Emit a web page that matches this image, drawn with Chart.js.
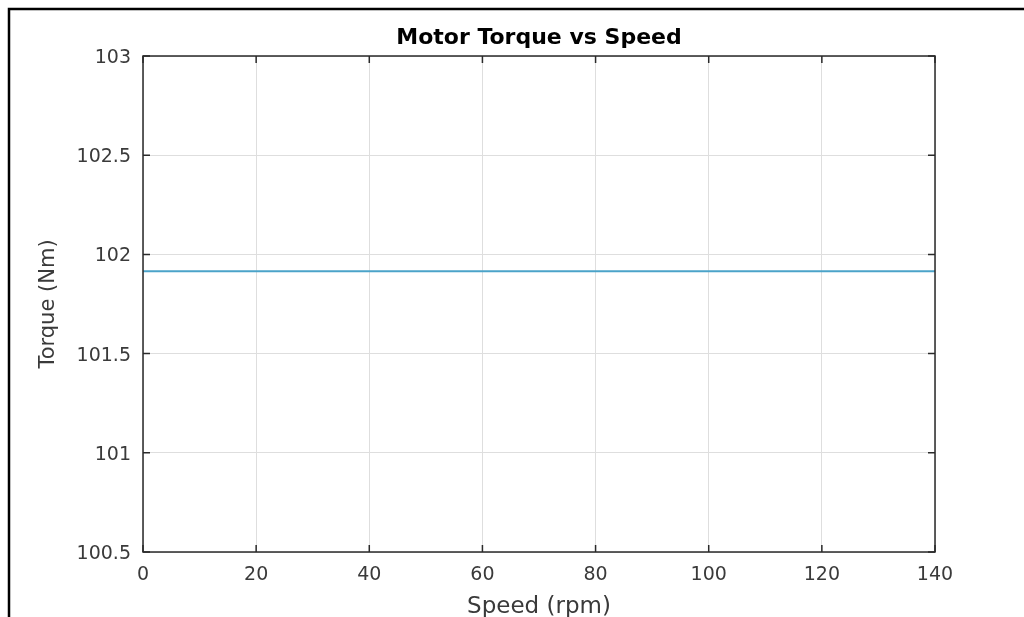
<!DOCTYPE html>
<html>
<head>
<meta charset="utf-8">
<script src="https://cdn.jsdelivr.net/npm/chart.js@4.4.0/dist/chart.umd.min.js"></script>
<style>
  html, body { margin: 0; padding: 0; background: #fff; }
  canvas { display: block; }
</style>
</head>
<body>
<canvas id="c" width="1024" height="617"></canvas>
<script>
// ---- data ----
const speedRpm = [0, 20, 40, 60, 80, 100, 120, 140];
const torqueNm = [101.915, 101.915, 101.915, 101.915, 101.915, 101.915, 101.915, 101.915];
const xTicks = [0, 20, 40, 60, 80, 100, 120, 140];
const yTicks = [100.5, 101, 101.5, 102, 102.5, 103];
const chartTitle = 'Motor Torque vs Speed';
const xLabel = 'Speed (rpm)';
const yLabel = 'Torque (Nm)';

const FONT = "'DejaVu Sans', sans-serif";
const AXIS_COLOR = '#2a2a2a';
const TEXT_COLOR = '#3a3a3a';

const framePlugin = {
  id: 'frame',
  beforeDraw(chart) {
    const ctx = chart.ctx;
    ctx.save();
    ctx.fillStyle = '#fff';
    ctx.fillRect(0, 0, chart.width, chart.height);
    ctx.strokeStyle = '#000';
    ctx.lineWidth = 2.5;
    ctx.beginPath();
    ctx.moveTo(9, chart.height);
    ctx.lineTo(9, 9);
    ctx.lineTo(chart.width, 9);
    ctx.stroke();
    ctx.restore();
  },
  afterDraw(chart) {
    const ctx = chart.ctx;
    const a = chart.chartArea;
    const xs = chart.scales.x, ys = chart.scales.y;
    const tl = 7;
    ctx.save();
    ctx.strokeStyle = AXIS_COLOR;
    ctx.lineWidth = 1.5;
    ctx.beginPath();
    xs.ticks.forEach(t => {
      const px = xs.getPixelForValue(t.value);
      ctx.moveTo(px, a.bottom); ctx.lineTo(px, a.bottom - tl);
      ctx.moveTo(px, a.top); ctx.lineTo(px, a.top + tl);
    });
    ys.ticks.forEach(t => {
      const py = ys.getPixelForValue(t.value);
      ctx.moveTo(a.left, py); ctx.lineTo(a.left + tl, py);
      ctx.moveTo(a.right, py); ctx.lineTo(a.right - tl, py);
    });
    ctx.stroke();
    ctx.strokeRect(a.left, a.top, a.right - a.left, a.bottom - a.top);
    ctx.restore();
  }
};

new Chart(document.getElementById('c'), {
  type: 'line',
  data: {
    datasets: [{
      data: speedRpm.map((x, i) => ({ x: x, y: torqueNm[i] })),
      borderColor: '#4ba3c9',
      borderWidth: 2,
      pointRadius: 0,
      fill: false,
      tension: 0
    }]
  },
  plugins: [framePlugin],
  options: {
    responsive: false,
    animation: false,
    devicePixelRatio: 1,
    layout: { padding: { left: 0, right: 89, top: 0, bottom: 0 } },
    plugins: {
      legend: { display: false },
      tooltip: { enabled: false },
      title: {
        display: true,
        text: chartTitle,
        fullSize: false,
        color: '#000',
        font: { family: FONT, size: 22, weight: 'bold', lineHeight: 1.0 },
        padding: { top: 27, bottom: 7 }
      }
    },
    scales: {
      x: {
        type: 'linear',
        min: 0, max: 140,
        afterBuildTicks(scale) { scale.ticks = xTicks.map(v => ({ value: v })); },
        afterFit(scale) { scale.height = 65; },
        ticks: {
          color: TEXT_COLOR,
          font: { family: FONT, size: 19 },
          padding: 12,
          maxRotation: 0,
          autoSkip: false
        },
        grid: { color: '#dedede', lineWidth: 1, drawTicks: false },
        border: { display: false },
        title: {
          display: true,
          text: xLabel,
          color: TEXT_COLOR,
          font: { family: FONT, size: 23, lineHeight: 0.8 },
          padding: { top: 0, bottom: 1 }
        }
      },
      y: {
        type: 'linear',
        min: 100.5, max: 103,
        afterBuildTicks(scale) { scale.ticks = yTicks.map(v => ({ value: v })); },
        afterFit(scale) { scale.width = 143; },
        ticks: {
          color: TEXT_COLOR,
          font: { family: FONT, size: 19 },
          padding: 12,
          labelOffset: 2,
          autoSkip: false,
          callback: v => String(v)
        },
        grid: { color: '#dedede', lineWidth: 1, drawTicks: false },
        border: { display: false },
        title: {
          display: true,
          text: yLabel,
          color: TEXT_COLOR,
          font: { family: FONT, size: 21, lineHeight: 1.0 },
          padding: { top: 38, bottom: 0 }
        }
      }
    }
  }
});
</script>
</body>
</html>
